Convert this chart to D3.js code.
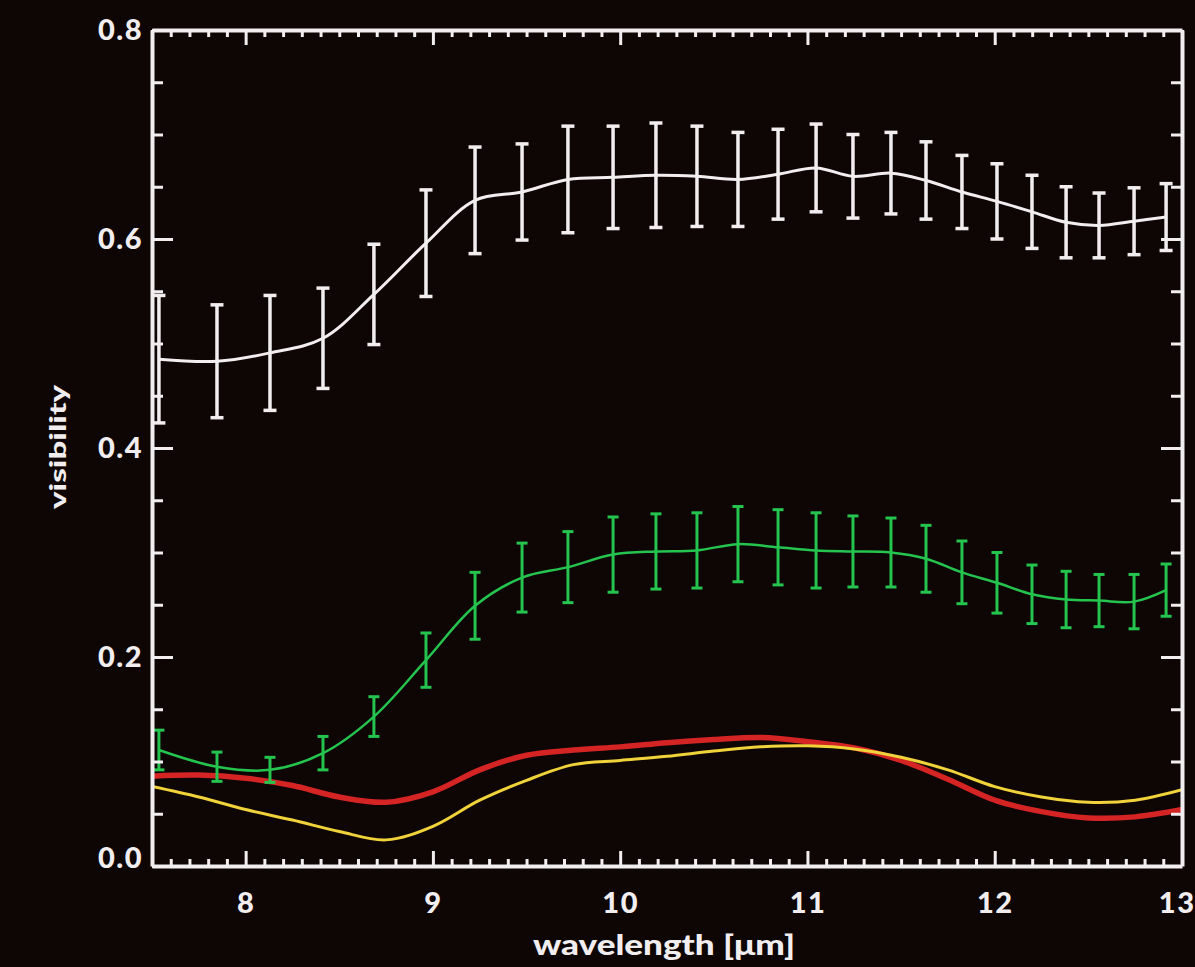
<!DOCTYPE html>
<html lang="en">
<head>
    <meta charset="UTF-8">
    <title>Visibility vs wavelength</title>
    <script src="https://d3js.org/d3.v7.min.js"></script>
    <style>
        html, body {
            margin: 0;
            padding: 0;
            background: #0e0505;
        }
        .tick text {
            font-family: Lato, "Liberation Sans", Arial, sans-serif;
            font-weight: 900;
            fill: #f2eef0;
            letter-spacing: 1.5px;
        }
        .axis-label {
            font-family: Lato, "Liberation Sans", Arial, sans-serif;
            font-weight: 900;
            fill: #f2eef0;
        }
    </style>
</head>
<body>

<div id="chart"></div>

<script>
// error-bar series: wavelength (micron) of each channel
const wavelengths = [7.537, 7.847, 8.130, 8.413, 8.685, 8.963, 9.225, 9.476, 9.721, 9.962,
    10.191, 10.410, 10.629, 10.843, 11.046, 11.243, 11.446, 11.633, 11.825, 12.012,
    12.199, 12.381, 12.557, 12.744, 12.915];

const whiteVis = [0.485, 0.483, 0.491, 0.505, 0.547, 0.596, 0.637, 0.645, 0.657, 0.659,
    0.661, 0.660, 0.657, 0.662, 0.668, 0.660, 0.663, 0.656, 0.645, 0.636,
    0.626, 0.616, 0.613, 0.617, 0.621];
const whiteErr = [0.061, 0.054, 0.055, 0.048, 0.048, 0.051, 0.051, 0.046, 0.051, 0.049,
    0.050, 0.048, 0.045, 0.043, 0.042, 0.040, 0.039, 0.037, 0.035, 0.036,
    0.035, 0.034, 0.031, 0.032, 0.032];

const greenVis = [0.111, 0.095, 0.092, 0.108, 0.143, 0.197, 0.249, 0.276, 0.286, 0.298,
    0.301, 0.302, 0.308, 0.305, 0.302, 0.301, 0.300, 0.294, 0.281, 0.271,
    0.260, 0.255, 0.254, 0.253, 0.264];
const greenErr = [0.019, 0.014, 0.012, 0.016, 0.019, 0.026, 0.032, 0.033, 0.034, 0.036,
    0.036, 0.036, 0.036, 0.036, 0.036, 0.034, 0.033, 0.032, 0.030, 0.029,
    0.028, 0.027, 0.025, 0.026, 0.025];

// model curves (no error bars)
const modelWl = [7.5, 7.75, 8.0, 8.25, 8.5, 8.75, 9.0, 9.25, 9.5, 9.75, 10.0, 10.25,
    10.5, 10.75, 11.0, 11.25, 11.5, 11.75, 12.0, 12.25, 12.5, 12.75, 13.0];
const redVis = [0.086, 0.087, 0.084, 0.077, 0.066, 0.061, 0.071, 0.092, 0.106, 0.111, 0.114, 0.118,
    0.121, 0.123, 0.119, 0.113, 0.101, 0.083, 0.063, 0.052, 0.046, 0.047, 0.054];
const yellowVis = [0.076, 0.066, 0.054, 0.044, 0.033, 0.025, 0.038, 0.063, 0.082, 0.097, 0.101, 0.105,
    0.110, 0.114, 0.115, 0.112, 0.104, 0.092, 0.076, 0.066, 0.061, 0.063, 0.073];

// axis ticks
const xMajor = [8, 9, 10, 11, 12, 13];
const yMajor = [0.0, 0.2, 0.4, 0.6, 0.8];

const W = 1195, H = 967;
const margin = { top: 30, right: 13, bottom: 101, left: 152 };
const width = W - margin.left - margin.right;
const height = H - margin.top - margin.bottom;

const fg = "#f2eef0";

const svg = d3.select("#chart")
    .append("svg")
    .attr("width", W)
    .attr("height", H);

svg.append("rect")
    .attr("width", W)
    .attr("height", H)
    .attr("fill", "#0e0505");

const g = svg.append("g")
    .attr("transform", `translate(${margin.left},${margin.top})`);

const x = d3.scaleLinear().domain([7.5, 13]).range([0, width]);
const y = d3.scaleLinear().domain([0, 0.8]).range([height, 0]);

const xMinor = d3.range(7.5, 13.0001, 0.1).map(v => +v.toFixed(1)).filter(v => !xMajor.includes(v));
const yMinor = d3.range(0, 0.8001, 0.05).map(v => +v.toFixed(2)).filter(v => !yMajor.some(m => Math.abs(m - v) < 1e-6));

g.append("clipPath").attr("id", "plot-clip")
    .append("rect").attr("width", width).attr("height", height);

const plot = g.append("g").attr("clip-path", "url(#plot-clip)");

function drawModel(vals, color, w) {
    const line = d3.line()
        .x((d, i) => x(modelWl[i]))
        .y(d => y(d))
        .curve(d3.curveCatmullRom);
    plot.append("path")
        .datum(vals)
        .attr("fill", "none")
        .attr("stroke", color)
        .attr("stroke-width", w)
        .attr("stroke-linejoin", "round")
        .attr("d", line);
}

function drawSeries(vals, errs, color, lw, bw, cap) {
    const line = d3.line()
        .x((d, i) => x(wavelengths[i]))
        .y(d => y(d))
        .curve(d3.curveCatmullRom);
    const pts = vals.map((v, i) => ({ wl: wavelengths[i], v, e: errs[i] }));
    const grp = plot.append("g");
    grp.append("path")
        .datum(vals)
        .attr("fill", "none")
        .attr("stroke", color)
        .attr("stroke-width", lw)
        .attr("d", line);
    grp.selectAll(".bar").data(pts).join("line")
        .attr("x1", d => x(d.wl)).attr("x2", d => x(d.wl))
        .attr("y1", d => y(d.v - d.e)).attr("y2", d => y(d.v + d.e))
        .attr("stroke", color).attr("stroke-width", bw);
    grp.selectAll(".cap-top").data(pts).join("line")
        .attr("x1", d => x(d.wl) - cap / 2).attr("x2", d => x(d.wl) + cap / 2)
        .attr("y1", d => y(d.v + d.e)).attr("y2", d => y(d.v + d.e))
        .attr("stroke", color).attr("stroke-width", bw);
    grp.selectAll(".cap-bot").data(pts).join("line")
        .attr("x1", d => x(d.wl) - cap / 2).attr("x2", d => x(d.wl) + cap / 2)
        .attr("y1", d => y(d.v - d.e)).attr("y2", d => y(d.v - d.e))
        .attr("stroke", color).attr("stroke-width", bw);
}

drawModel(redVis, "#d42424", 5.5);
drawModel(yellowVis, "#f0d23a", 3);
drawSeries(greenVis, greenErr, "#25c44e", 2.5, 3, 11);
drawSeries(whiteVis, whiteErr, fg, 3, 3.5, 13);

// frame + ticks (all pointing inward)
function styleAxis(sel) {
    sel.selectAll("line").attr("stroke", fg).attr("stroke-width", 3);
    sel.selectAll(".domain").attr("stroke", fg).attr("stroke-width", 4);
}

g.append("g")
    .attr("transform", `translate(0,${height})`)
    .call(d3.axisBottom(x).tickValues(xMinor).tickFormat("").tickSizeInner(-7).tickSizeOuter(0))
    .call(s => s.select(".domain").remove())
    .call(styleAxis);
g.append("g")
    .attr("transform", `translate(0,${height})`)
    .call(d3.axisBottom(x).tickValues(xMajor).tickFormat(d3.format("d")).tickSizeInner(-15).tickSizeOuter(0).tickPadding(26))
    .call(styleAxis)
    .selectAll("text")
    .style("font-size", "29px")
    .attr("text-anchor", d => d === 13 ? "end" : "middle")
    .attr("dx", d => d === 13 ? "13" : "0");

g.append("g")
    .call(d3.axisTop(x).tickValues(xMinor).tickFormat("").tickSizeInner(-7).tickSizeOuter(0))
    .call(s => s.select(".domain").remove())
    .call(styleAxis);
g.append("g")
    .call(d3.axisTop(x).tickValues(xMajor).tickFormat("").tickSizeInner(-15).tickSizeOuter(0))
    .call(styleAxis);

g.append("g")
    .call(d3.axisLeft(y).tickValues(yMinor).tickFormat("").tickSizeInner(-11).tickSizeOuter(0))
    .call(s => s.select(".domain").remove())
    .call(styleAxis);
g.append("g")
    .call(d3.axisLeft(y).tickValues(yMajor).tickFormat(d3.format(".1f")).tickSizeInner(-21).tickSizeOuter(0).tickPadding(9))
    .call(styleAxis)
    .selectAll("text")
    .style("font-size", "29px")
    .attr("dy", d => d === 0 ? "0.05em" : "0.32em");

g.append("g")
    .attr("transform", `translate(${width},0)`)
    .call(d3.axisRight(y).tickValues(yMinor).tickFormat("").tickSizeInner(-11).tickSizeOuter(0))
    .call(s => s.select(".domain").remove())
    .call(styleAxis);
g.append("g")
    .attr("transform", `translate(${width},0)`)
    .call(d3.axisRight(y).tickValues(yMajor).tickFormat("").tickSizeInner(-21).tickSizeOuter(0))
    .call(styleAxis);

// axis titles
g.append("text")
    .attr("class", "axis-label")
    .attr("x", 512)
    .attr("y", height + 89)
    .attr("text-anchor", "middle")
    .attr("textLength", 262)
    .attr("lengthAdjust", "spacingAndGlyphs")
    .style("font-size", "29px")
    .text("wavelength [\u03bcm]");

g.append("text")
    .attr("class", "axis-label")
    .attr("transform", `translate(${58 - margin.left},${447 - margin.top}) rotate(-90)`)
    .attr("text-anchor", "middle")
    .attr("dy", "0.35em")
    .attr("textLength", 124)
    .attr("lengthAdjust", "spacingAndGlyphs")
    .style("font-size", "23px")
    .text("visibility");
</script>

</body>
</html>
